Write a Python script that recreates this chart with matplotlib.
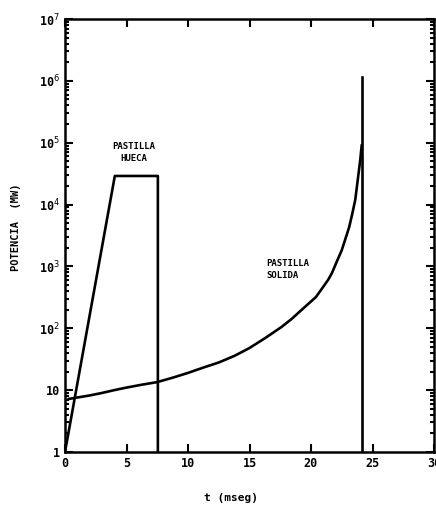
import matplotlib
matplotlib.use('Agg')
import matplotlib.pyplot as plt
from matplotlib.ticker import FixedLocator, LogLocator, NullFormatter

# pastilla hueca (hollow pellet)
t_hueca = [0.0, 4.05, 7.55, 7.55]
p_hueca = [1.0, 2.9e4, 2.9e4, 1.0]

# pastilla solida (solid pellet)
t_solida = [0.3, 0.65, 2.0, 3.0, 4.0, 5.0, 6.2, 7.5, 8.8, 10.0, 11.2, 12.5,
            13.8, 15.0, 16.3, 17.6, 18.4, 19.0, 19.7, 20.4, 21.0, 21.4,
            21.7, 22.1, 22.5, 22.8, 23.1, 23.35, 23.6, 23.8, 24.0, 24.12]
p_solida = [7.2, 7.4, 8.2, 9.0, 10.0, 11.0, 12.2, 13.5, 16.0, 19.0, 23.0,
            28.0, 36.0, 48.0, 70.0, 105.0, 140.0, 180.0, 240.0, 320.0, 470.0,
            610.0, 780.0, 1200.0, 1830.0, 2800.0, 4300.0, 7000.0, 1.2e4,
            2.5e4, 5.2e4, 9.0e4]
t_salto = [24.15, 24.15]
p_salto = [1.15e6, 1.0]

x_ticks = [0, 5, 10, 15, 20, 25, 30]
x_labels = ['0', '5', '10', '15', '20', '25', '30']
y_ticks = [1, 10, 1e2, 1e3, 1e4, 1e5, 1e6, 1e7]
y_labels = ['1', '10', r'10$^{2}$', r'10$^{3}$', r'10$^{4}$',
            r'10$^{5}$', r'10$^{6}$', r'10$^{7}$']

plt.rcParams['font.family'] = ['DejaVu Sans Mono']
plt.rcParams['mathtext.fontset'] = 'dejavusans'

fig = plt.figure(figsize=(4.36, 5.09), dpi=100)
ax = fig.add_axes([65/436., 57/509., 369/436., 433/509.])

ax.plot(t_hueca, p_hueca, color='black', lw=1.9)
ax.plot(t_solida, p_solida, color='black', lw=1.9)
ax.plot(t_salto, p_salto, color='black', lw=1.9)

ax.set_yscale('log')
ax.set_xlim(0, 30)
ax.set_ylim(1, 1e7)

ax.xaxis.set_major_locator(FixedLocator(x_ticks))
ax.set_xticklabels(x_labels)
ax.yaxis.set_major_locator(FixedLocator(y_ticks))
ax.set_yticklabels(y_labels)
ax.yaxis.set_minor_locator(LogLocator(base=10, subs=range(2, 10)))
ax.yaxis.set_minor_formatter(NullFormatter())

ax.tick_params(which='both', direction='in', top=True, right=True,
               width=1.5, labelsize=8.5)
ax.tick_params(which='major', length=6)
ax.tick_params(which='minor', length=3)
for lab in ax.get_xticklabels() + ax.get_yticklabels():
    lab.set_fontweight('bold')
for s in ax.spines.values():
    s.set_linewidth(1.8)

ax.text(5.6, 7e4, 'PASTILLA\nHUECA', ha='center', va='center',
        fontsize=6.5, fontweight='bold', linespacing=1.5)
ax.text(16.4, 900, 'PASTILLA\nSOLIDA', ha='left', va='center',
        fontsize=6.5, fontweight='bold', linespacing=1.5)

ax.set_xlabel('t (mseg)', fontsize=8, fontweight='bold')
ax.xaxis.set_label_coords(0.45, -0.095)
ax.set_ylabel('POTENCIA  (MW)', fontsize=7.5, fontweight='bold')
ax.yaxis.set_label_coords(-0.12, 0.52)

fig.savefig('out.png', dpi=100)
